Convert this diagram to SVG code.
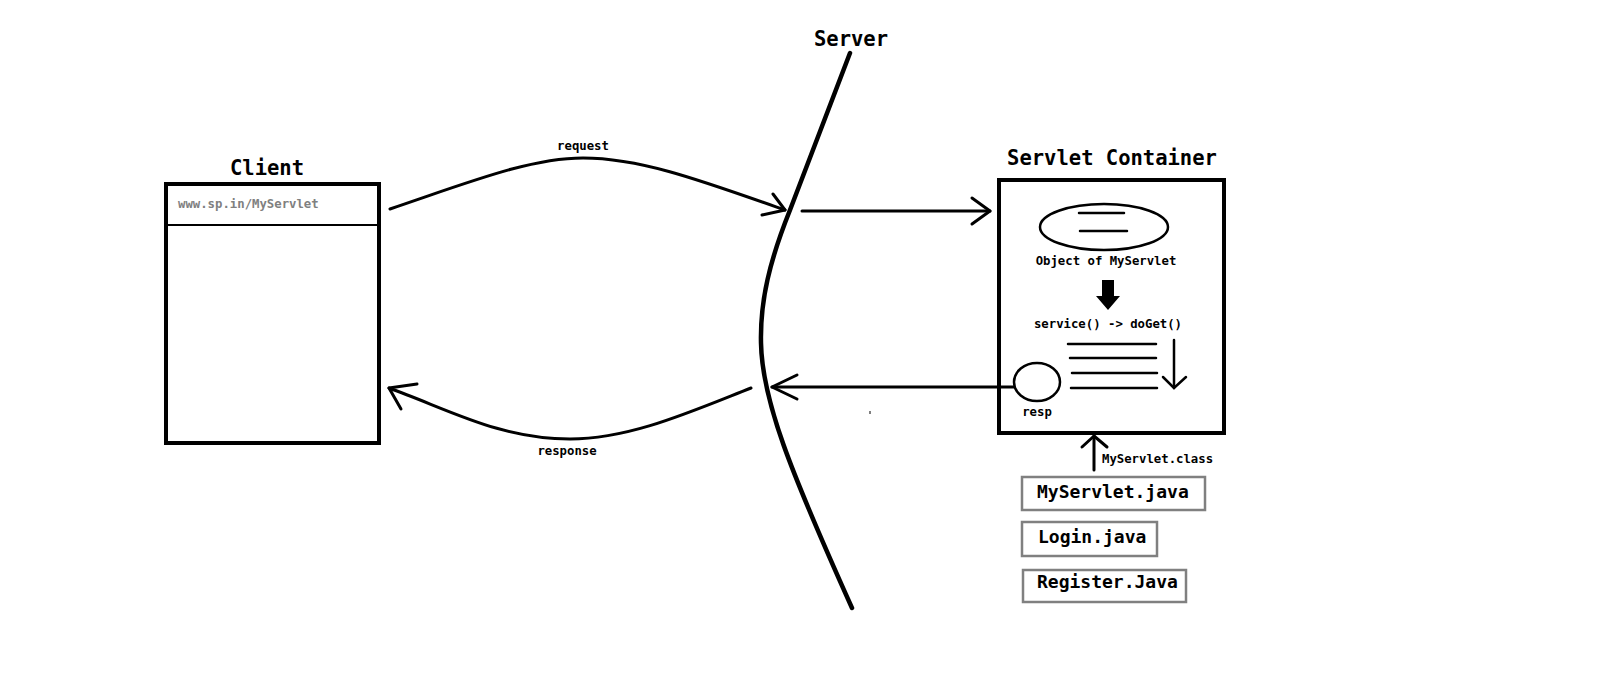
<svg xmlns="http://www.w3.org/2000/svg" width="1600" height="678" viewBox="0 0 1600 678">
<style>
text{font-family:"DejaVu Sans Mono","Liberation Mono",monospace;font-weight:bold;fill:#000}
.title{font-size:20.5px}
.small{font-size:12.3px}
.file{font-size:18px}
.ln{fill:none;stroke:#000;stroke-width:3;stroke-linecap:round;stroke-linejoin:round}
.thin{fill:none;stroke:#000;stroke-width:2.5;stroke-linecap:round}
.box{fill:#fff;stroke:#000;stroke-width:4}
.fbox{fill:#fff;stroke:#808080;stroke-width:2.5}
</style>
<rect width="1600" height="678" fill="#fff"/>

<g id="server">
<path d="M850,53 L790,210 C770,260 760,300 761,343 C762,400 790,470 852,608" fill="none" stroke="#000" stroke-width="4.5" stroke-linecap="round" stroke-linejoin="round"/>
<text class="title" x="851" y="46" text-anchor="middle">Server</text>
</g>

<g id="client">
<text class="title" x="267" y="175" text-anchor="middle">Client</text>
<rect class="box" x="166" y="184" width="213" height="259"/>
<line x1="166" y1="225" x2="379" y2="225" stroke="#000" stroke-width="2"/>
<text class="small" x="178" y="208" style="fill:#808080">www.sp.in/MyServlet</text>
</g>

<g id="servlet-container">
<text class="title" x="1112" y="165" text-anchor="middle">Servlet Container</text>
<rect class="box" x="999" y="180" width="225" height="253"/>
<ellipse cx="1104" cy="227" rx="64" ry="23" class="thin"/>
<line class="thin" x1="1079" y1="213" x2="1124" y2="213"/>
<line class="thin" x1="1080" y1="231" x2="1127" y2="231"/>
<text class="small" x="1106" y="265" text-anchor="middle">Object of MyServlet</text>
<polygon points="1102,280 1114,280 1114,296 1120,296 1108,310 1096,296 1102,296" fill="#000"/>
<text class="small" x="1108" y="328" text-anchor="middle">service() -&gt; doGet()</text>
<line class="thin" x1="1068" y1="344" x2="1156" y2="344"/>
<line class="thin" x1="1070" y1="358" x2="1156" y2="358"/>
<line class="thin" x1="1072" y1="373" x2="1157" y2="373"/>
<line class="thin" x1="1071" y1="388" x2="1157" y2="388"/>
<line class="thin" x1="1174" y1="340" x2="1174" y2="388"/>
<polyline class="thin" points="1163,377 1174,388 1186,377" fill="none"/>
<ellipse cx="1037" cy="382" rx="23" ry="19" class="thin"/>
<text class="small" x="1037" y="416" text-anchor="middle">resp</text>
</g>

<g id="myservlet-java">
<rect class="fbox" x="1022" y="477" width="183" height="33"/>
<text class="file" x="1037" y="498">MyServlet.java</text>
</g>
<g id="login-java">
<rect class="fbox" x="1022" y="522" width="135" height="34"/>
<text class="file" x="1038" y="543">Login.java</text>
</g>
<g id="register-java">
<rect class="fbox" x="1023" y="570" width="163" height="32"/>
<text class="file" x="1037" y="588">Register.Java</text>
</g>

<g id="connectors">
<path class="ln" d="M390,209 C470,182 530,158 583,158 C640,158 700,180 785,210"/>
<polyline class="ln" points="773,194 785,210 762,215"/>
<text class="small" x="583" y="150" text-anchor="middle">request</text>
<line class="ln" x1="802" y1="211" x2="990" y2="211"/>
<polyline class="ln" points="972,198 990,211 972,224"/>
<line class="ln" x1="1014" y1="387" x2="772" y2="387"/>
<polyline class="ln" points="797,375 772,387 797,399"/>
<path class="ln" d="M751,388 C690,412 630,439 570,439 C500,439 450,410 389,388"/>
<polyline class="ln" points="417,384 389,388 401,409"/>
<text class="small" x="567" y="455" text-anchor="middle">response</text>
<line class="ln" x1="1094" y1="470" x2="1094" y2="436"/>
<polyline class="ln" points="1082,447 1094,436 1107,447"/>
<text class="small" x="1102" y="463">MyServlet.class</text>
<rect x="869" y="411" width="2" height="3" fill="#808080"/>
</g>
</svg>
